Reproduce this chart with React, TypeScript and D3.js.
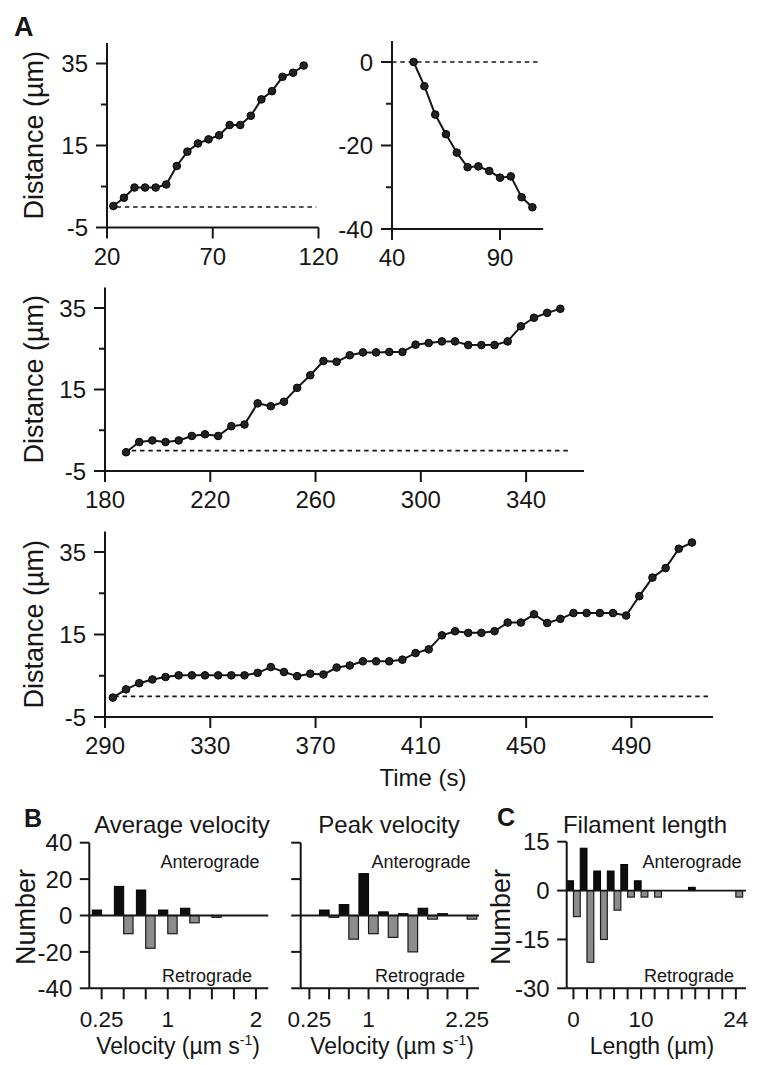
import React from 'react';
import * as d3 from 'd3';

const FONT = '"Liberation Sans", Arial, Helvetica, sans-serif';
const INK = '#161616';

// ---------- Panel A: distance traces ----------
const a1Time = [23, 28, 33, 38, 43, 48, 53, 58, 63, 68, 73, 78, 83, 88, 93, 98, 103, 108, 113];
const a1Dist = [0.25, 2.25, 4.75, 4.75, 4.75, 5.5, 10, 13.5, 15.5, 16.5, 17.5, 20, 20, 22.25, 26.25, 28.25, 31.75, 32.75, 34.5];
const a1XTicks = [20, 70, 120];
const a1YTicks = [35, 15, -5];
const a1YMinor = [25, 5];

const a2Time = [50, 55, 60, 65, 70, 75, 80, 85, 90, 95, 100, 105];
const a2Dist = [0, -5.8, -12.6, -17.3, -21.7, -25.2, -25.0, -26.1, -27.7, -27.4, -32.4, -34.8];
const a2XTicks = [40, 90];
const a2YTicks = [0, -20, -40];
const a2YMinor = [-10, -30];

const a3Time = [188, 193, 198, 203, 208, 213, 218, 223, 228, 233, 238, 243, 248, 253, 258, 263, 268, 273, 278, 283, 288, 293, 298, 303, 308, 313, 318, 323, 328, 333, 338, 343, 348, 353];
const a3Dist = [-0.4, 2.1, 2.5, 2.1, 2.5, 3.6, 4.0, 3.6, 6.0, 6.4, 11.6, 10.9, 12.0, 15.4, 18.5, 22.0, 21.8, 23.4, 24.1, 24.1, 24.2, 24.2, 26.0, 26.4, 26.8, 26.8, 25.9, 25.9, 25.9, 26.8, 30.5, 32.6, 33.8, 34.8];
const a3XTicks = [180, 220, 260, 300, 340];

const a4Time = [293, 298, 303, 308, 313, 318, 323, 328, 333, 338, 343, 348, 353, 358, 363, 368, 373, 378, 383, 388, 393, 398, 403, 408, 413, 418, 423, 428, 433, 438, 443, 448, 453, 458, 463, 468, 473, 478, 483, 488, 493, 498, 503, 508, 513];
const a4Dist = [-0.3, 1.7, 3.2, 4.1, 4.7, 5.1, 5.1, 5.1, 5.1, 5.1, 5.1, 5.7, 7.1, 5.9, 4.9, 5.5, 5.3, 7.0, 7.5, 8.5, 8.5, 8.5, 8.9, 10.5, 11.4, 14.8, 15.8, 15.4, 15.4, 15.8, 17.9, 17.9, 19.9, 17.8, 18.8, 20.2, 20.2, 20.2, 20.2, 19.6, 24.3, 28.8, 31.1, 35.8, 37.3];
const a4XTicks = [290, 330, 370, 410, 450, 490];

const distYTicks = [35, 15, -5];
const distYMinor = [25, 5];

// ---------- Panel B: velocity histograms ----------
const avgVelBins = [0.25, 0.5, 0.75, 1.0, 1.25, 1.5];
const avgVelAntero = [3, 16, 14, 3, 4, 0];
const avgVelRetro = [0, -10, -18, -10, -4, -1];
const avgVelTicks = [0.25, 0.5, 0.75, 1.0, 1.25, 1.5, 1.75, 2.0];
const avgVelLabels = [0.25, 1, 2];

const peakVelBins = [0.25, 0.5, 0.75, 1.0, 1.25, 1.5, 1.75, 2.0, 2.25];
const peakVelAntero = [0, 3, 6, 23, 2, 1, 4, 1, 0];
const peakVelRetro = [0, -1, -13, -10, -12, -20, -2, 0, -2];
const peakVelTicks = [0.25, 0.5, 0.75, 1.0, 1.25, 1.5, 1.75, 2.0, 2.25];
const peakVelLabels = [0.25, 1, 2.25];

const velYTicks = [40, 20, 0, -20, -40];

// ---------- Panel C: filament length histogram ----------
const lenBins = [0, 2, 4, 6, 8, 10, 12, 14, 16, 18, 20, 22, 24];
const lenAntero = [3, 13, 6, 6, 8, 3, 0, 0, 0, 1, 0, 0, 0];
const lenRetro = [-8, -22, -15, -6, -2, -2, -2, 0, 0, 0, 0, 0, -2];
const lenTicks = [0, 2, 4, 6, 8, 10, 12, 14, 16, 18, 20, 22, 24];
const lenLabels = [0, 10, 24];
const lenYTicks = [15, 0, -15, -30];

type LineProps = {
  time: number[]; dist: number[];
  xDomain: [number, number]; xRange: [number, number];
  yDomain: [number, number]; yRange: [number, number];
  xTicks: number[]; yTicks: number[]; yMinor: number[];
  dash: [number, number];
  yTitle?: boolean;
};

function LinePanel(p: LineProps) {
  const x = d3.scaleLinear().domain(p.xDomain).range(p.xRange);
  const y = d3.scaleLinear().domain(p.yDomain).range(p.yRange);
  const pts = p.time.map((t, i) => [t, p.dist[i]] as [number, number]);
  const path = d3.line<[number, number]>().x(d => x(d[0])).y(d => y(d[1]))(pts) || '';
  const ax = p.xRange[0];
  const ay = y(p.yDomain[0]);
  const top = y(p.yDomain[1]);
  const cy = (ay + top) / 2;
  return (
    <g>
      <line x1={x(p.dash[0])} x2={x(p.dash[1])} y1={y(0)} y2={y(0)} stroke={INK} strokeWidth={1.7} strokeDasharray="4.5 3.8" />
      <line x1={ax} x2={ax} y1={top} y2={ay} stroke={INK} strokeWidth={2} />
      <line x1={ax} x2={p.xRange[1]} y1={ay} y2={ay} stroke={INK} strokeWidth={2} />
      {p.yTicks.map(t => (
        <g key={'y' + t}>
          <line x1={ax - 11} x2={ax} y1={y(t)} y2={y(t)} stroke={INK} strokeWidth={2} />
          <text x={ax - 19} y={y(t)} dy="0.36em" textAnchor="end" fontSize={24} fill={INK}>{t}</text>
        </g>
      ))}
      {p.yMinor.map(t => (
        <line key={'m' + t} x1={ax - 6} x2={ax} y1={y(t)} y2={y(t)} stroke={INK} strokeWidth={2} />
      ))}
      {p.xTicks.map(t => (
        <g key={'x' + t}>
          <line x1={x(t)} x2={x(t)} y1={ay} y2={ay + 11} stroke={INK} strokeWidth={2} />
          <text x={x(t)} y={ay + 37} textAnchor="middle" fontSize={24} fill={INK}>{t}</text>
        </g>
      ))}
      <path d={path} fill="none" stroke={INK} strokeWidth={2} strokeLinejoin="round" />
      {pts.map((d, i) => (
        <circle key={i} cx={x(d[0])} cy={y(d[1])} r={3.8} fill="#222" stroke="#000" strokeWidth={1} />
      ))}
      {p.yTitle && (
        <text transform={`translate(43,${cy}) rotate(-90)`} textAnchor="middle" fontSize={27} fill={INK}>Distance (µm)</text>
      )}
    </g>
  );
}

type HistProps = {
  bins: number[]; antero: number[]; retro: number[]; barW: number;
  xDomain: [number, number]; xRange: [number, number];
  yDomain: [number, number]; yRange: [number, number];
  xTicks: number[]; xLabels: number[]; yTicks: number[]; yLabels: boolean;
};

function HistPanel(p: HistProps) {
  const x = d3.scaleLinear().domain(p.xDomain).range(p.xRange);
  const y = d3.scaleLinear().domain(p.yDomain).range(p.yRange);
  const ax = p.xRange[0];
  const ay = y(p.yDomain[0]);
  const top = y(p.yDomain[1]);
  return (
    <g>
      {p.bins.map((b, i) => (
        <g key={'b' + i}>
          {p.antero[i] > 0 && (
            <rect x={x(b - p.barW)} y={y(p.antero[i])} width={x(b) - x(b - p.barW)} height={y(0) - y(p.antero[i])} fill="#0d0d0d" stroke="#000" strokeWidth={1} />
          )}
          {p.retro[i] < 0 && (
            <rect x={x(b)} y={y(0)} width={x(b + p.barW) - x(b)} height={y(p.retro[i]) - y(0)} fill="#8c8c8c" stroke="#1a1a1a" strokeWidth={1.2} />
          )}
        </g>
      ))}
      <line x1={ax} x2={p.xRange[1]} y1={y(0)} y2={y(0)} stroke={INK} strokeWidth={1.8} />
      <line x1={ax} x2={ax} y1={top} y2={ay} stroke={INK} strokeWidth={2} />
      <line x1={ax} x2={p.xRange[1]} y1={ay} y2={ay} stroke={INK} strokeWidth={2} />
      {p.yTicks.map(t => (
        <g key={'y' + t}>
          <line x1={ax - 9.5} x2={ax} y1={y(t)} y2={y(t)} stroke={INK} strokeWidth={2} />
          {p.yLabels && (
            <text x={ax - 17} y={y(t)} dy="0.36em" textAnchor="end" fontSize={24} fill={INK}>{t}</text>
          )}
        </g>
      ))}
      {p.xTicks.map(t => (
        <line key={'x' + t} x1={x(t)} x2={x(t)} y1={ay} y2={ay + 11} stroke={INK} strokeWidth={2} />
      ))}
      {p.xLabels.map(t => (
        <text key={'l' + t} x={x(t)} y={ay + 39} textAnchor="middle" fontSize={22.5} fill={INK}>{t}</text>
      ))}
    </g>
  );
}

export default function App() {
  return (
    <svg width={757} height={1065} viewBox="0 0 757 1065"
      style={{ position: 'absolute', left: 0, top: 0, background: '#fff' }}
      fontFamily={FONT}>
      <rect x={0} y={0} width={757} height={1065} fill="#fff" />
      <text x={14} y={36} fontSize={27} fontWeight="bold" fill={INK}>A</text>

      <LinePanel time={a1Time} dist={a1Dist} xDomain={[20, 120]} xRange={[107, 318.5]}
        yDomain={[-5, 40]} yRange={[227.5, 43]} xTicks={a1XTicks} yTicks={a1YTicks} yMinor={a1YMinor}
        dash={[24.5, 119]} yTitle />
      <LinePanel time={a2Time} dist={a2Dist} xDomain={[40, 110]} xRange={[392, 543.2]}
        yDomain={[-40, 5]} yRange={[229, 41.1]} xTicks={a2XTicks} yTicks={a2YTicks} yMinor={a2YMinor}
        dash={[40, 108.5]} />
      <LinePanel time={a3Time} dist={a3Dist} xDomain={[180, 362]} xRange={[105, 584]}
        yDomain={[-5, 40]} yRange={[471, 287.6]} xTicks={a3XTicks} yTicks={distYTicks} yMinor={distYMinor}
        dash={[187, 357.3]} yTitle />
      <LinePanel time={a4Time} dist={a4Dist} xDomain={[290, 521]} xRange={[105, 713]}
        yDomain={[-5, 40]} yRange={[717, 531.4]} xTicks={a4XTicks} yTicks={distYTicks} yMinor={distYMinor}
        dash={[293.5, 520]} yTitle />
      <text x={423} y={786} textAnchor="middle" fontSize={24} fill={INK}>Time (s)</text>

      {/* Panel B */}
      <text x={24} y={827} fontSize={25} fontWeight="bold" fill={INK}>B</text>
      <text x={182} y={833} textAnchor="middle" fontSize={24} fill={INK}>Average velocity</text>
      <text x={389} y={833} textAnchor="middle" fontSize={24} fill={INK}>Peak velocity</text>
      <HistPanel bins={avgVelBins} antero={avgVelAntero} retro={avgVelRetro} barW={0.106}
        xDomain={[0.11, 2.14]} xRange={[89.3, 268.3]} yDomain={[-40, 40]} yRange={[988.3, 842.7]}
        xTicks={avgVelTicks} xLabels={avgVelLabels} yTicks={velYTicks} yLabels />
      <HistPanel bins={peakVelBins} antero={peakVelAntero} retro={peakVelRetro} barW={0.122}
        xDomain={[0.14, 2.4]} xRange={[300.7, 479]} yDomain={[-40, 40]} yRange={[988.3, 842.7]}
        xTicks={peakVelTicks} xLabels={peakVelLabels} yTicks={velYTicks} yLabels={false} />
      <text x={210} y={868} textAnchor="middle" fontSize={18} fill={INK}>Anterograde</text>
      <text x={207} y={982} textAnchor="middle" fontSize={18} fill={INK}>Retrograde</text>
      <text x={421} y={868} textAnchor="middle" fontSize={18} fill={INK}>Anterograde</text>
      <text x={420} y={982} textAnchor="middle" fontSize={18} fill={INK}>Retrograde</text>
      <text transform="translate(35,917) rotate(-90)" textAnchor="middle" fontSize={27} fill={INK}>Number</text>
      <text x={178} y={1054} textAnchor="middle" fontSize={23} fill={INK}>
        Velocity (µm s<tspan dy={-9} fontSize={14}>-1</tspan><tspan dy={9}>)</tspan>
      </text>
      <text x={392} y={1054} textAnchor="middle" fontSize={23} fill={INK}>
        Velocity (µm s<tspan dy={-9} fontSize={14}>-1</tspan><tspan dy={9}>)</tspan>
      </text>

      {/* Panel C */}
      <text x={497} y={826} fontSize={25} fontWeight="bold" fill={INK}>C</text>
      <text x={645} y={833} textAnchor="middle" fontSize={24} fill={INK}>Filament length</text>
      <HistPanel bins={lenBins} antero={lenAntero} retro={lenRetro} barW={1}
        xDomain={[-1, 25.5]} xRange={[566.7, 746]} yDomain={[-30, 15]} yRange={[988.3, 841.7]}
        xTicks={lenTicks} xLabels={lenLabels} yTicks={lenYTicks} yLabels />
      <text x={692} y={868} textAnchor="middle" fontSize={18} fill={INK}>Anterograde</text>
      <text x={689} y={982} textAnchor="middle" fontSize={18} fill={INK}>Retrograde</text>
      <text transform="translate(510,917) rotate(-90)" textAnchor="middle" fontSize={27} fill={INK}>Number</text>
      <text x={652} y={1054} textAnchor="middle" fontSize={23} fill={INK}>Length (µm)</text>
    </svg>
  );
}
